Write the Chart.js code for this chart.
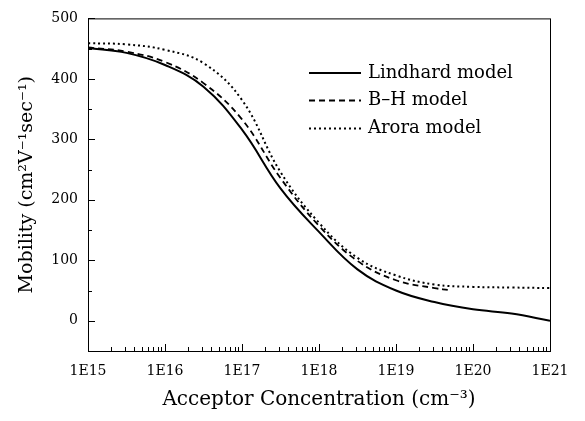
<!DOCTYPE html>
<html>
<head>
<meta charset="utf-8">
<script src="https://cdn.jsdelivr.net/npm/chart.js@4.4.0/dist/chart.umd.min.js"></script>
<style>
  body { margin: 0; background: #fff; }
</style>
</head>
<body>
<canvas id="mobChart" width="585" height="421"></canvas>
<script>
// acceptor concentration (cm^-3), half-decade steps
let concentration = [1e15, 3.16e15, 1e16, 3.16e16, 1e17, 3.16e17, 1e18, 3.16e18, 1e19, 3.16e19, 1e20, 3.16e20, 1e21];
let lindhard = [451, 443, 423, 387, 316, 219, 147, 85, 50, 31, 19, 12, 0];
let bhModel = [452, 445, 428, 393, 333, 236, 157, 99, 67, 54];
let bhEnd = [4.7e19, 51];
let arora = [459, 457, 448, 426, 365, 246, 162, 104, 75, 60, 56, 55, 54];
let decades = [15, 16, 17, 18, 19, 20, 21];

function toPoints(xs, ys) {
    let pts = [];
    for (let i = 0; i < ys.length; i++) {
        pts.push({x: xs[i], y: ys[i]});
    }
    return pts;
}

let bhPoints = toPoints(concentration, bhModel);
bhPoints.push({x: bhEnd[0], y: bhEnd[1]});

let serif = "'DejaVu Serif', serif";

// inward ticks, box and legend inside the plot
let framePlugin = {
    id: 'frame',
    afterDatasetsDraw(chart) {
        let ctx = chart.ctx;
        let a = chart.chartArea;
        let xs = chart.scales.x;
        let ys = chart.scales.y;
        ctx.save();
        ctx.strokeStyle = '#000';
        ctx.lineWidth = 1;
        ctx.strokeRect(a.left + 0.5, a.top + 0.5, a.right - a.left, a.bottom - a.top);

        ctx.beginPath();
        for (let e = 15; e <= 20; e++) {
            for (let k = 1; k <= 9; k++) {
                let px = Math.round(xs.getPixelForValue(k * Math.pow(10, e))) + 0.5;
                let len = k == 1 ? 7 : 4;
                ctx.moveTo(px, a.bottom);
                ctx.lineTo(px, a.bottom - len);
            }
        }
        for (let v = -50; v <= 500; v += 50) {
            let py = Math.round(ys.getPixelForValue(v)) + 0.5;
            let len = v % 100 == 0 ? 7 : 4;
            ctx.moveTo(a.left, py);
            ctx.lineTo(a.left + len, py);
        }
        ctx.stroke();

        // legend
        ctx.font = "18px " + serif;
        ctx.textBaseline = 'middle';
        ctx.fillStyle = '#000';
        let rows = [73, 100.5, 128.5];
        chart.data.datasets.forEach(function (ds, i) {
            ctx.beginPath();
            ctx.lineWidth = ds.borderWidth;
            ctx.setLineDash(ds.borderDash || []);
            ctx.moveTo(309, rows[i]);
            ctx.lineTo(361, rows[i]);
            ctx.stroke();
            ctx.setLineDash([]);
            ctx.fillText(ds.label, 368, rows[i]);
        });
        ctx.restore();
    }
};

let ctx1 = document.getElementById("mobChart").getContext('2d');
let myChart = new Chart(ctx1, {
    type: 'line',
    data: {
        datasets: [{
            label: 'Lindhard model',
            data: toPoints(concentration, lindhard),
            borderColor: '#000',
            borderWidth: 2,
            pointRadius: 0,
            tension: 0.4
        }, {
            label: 'B\u2013H model',
            data: bhPoints,
            borderColor: '#000',
            borderWidth: 1.8,
            borderDash: [6, 4],
            pointRadius: 0,
            tension: 0.4
        }, {
            label: 'Arora model',
            data: toPoints(concentration, arora),
            borderColor: '#000',
            borderWidth: 2,
            borderDash: [2, 3],
            pointRadius: 0,
            tension: 0.4
        }]
    },
    options: {
        responsive: false,
        animation: false,
        layout: { padding: { top: 9, right: 35, left: 0, bottom: 0 } },
        plugins: { legend: { display: false }, tooltip: { enabled: false } },
        scales: {
            x: {
                type: 'logarithmic',
                min: 1e15,
                max: 1e21,
                afterBuildTicks: function (scale) {
                    scale.ticks = decades.map(e => ({value: Math.pow(10, e)}));
                },
                afterFit: function (scale) { scale.height = 70; },
                grid: { display: false, drawTicks: false },
                border: { display: false },
                ticks: {
                    padding: 12,
                    maxRotation: 0,
                    autoSkip: false,
                    color: '#000',
                    font: { family: serif, size: 14 },
                    callback: function (v) { return '1E' + Math.round(Math.log10(v)); }
                },
                title: {
                    display: true,
                    text: 'Acceptor Concentration (cm\u207B\u00B3)',
                    color: '#000',
                    font: { family: serif, size: 20 },
                    padding: { top: 0, bottom: 9 }
                }
            },
            y: {
                min: -50,
                max: 500,
                afterFit: function (scale) { scale.width = 88; },
                grid: { display: false, drawTicks: false },
                border: { display: false },
                ticks: {
                    stepSize: 50,
                    padding: 10,
                    color: '#000',
                    font: { family: serif, size: 14 },
                    callback: function (v) { return v % 100 == 0 ? v : ''; }
                },
                title: {
                    display: true,
                    text: 'Mobility (cm\u00B2V\u207B\u00B9sec\u207B\u00B9)',
                    color: '#000',
                    font: { family: serif, size: 19 },
                    padding: { top: 16, bottom: 0 }
                }
            }
        }
    },
    plugins: [framePlugin]
});
</script>
</body>
</html>
